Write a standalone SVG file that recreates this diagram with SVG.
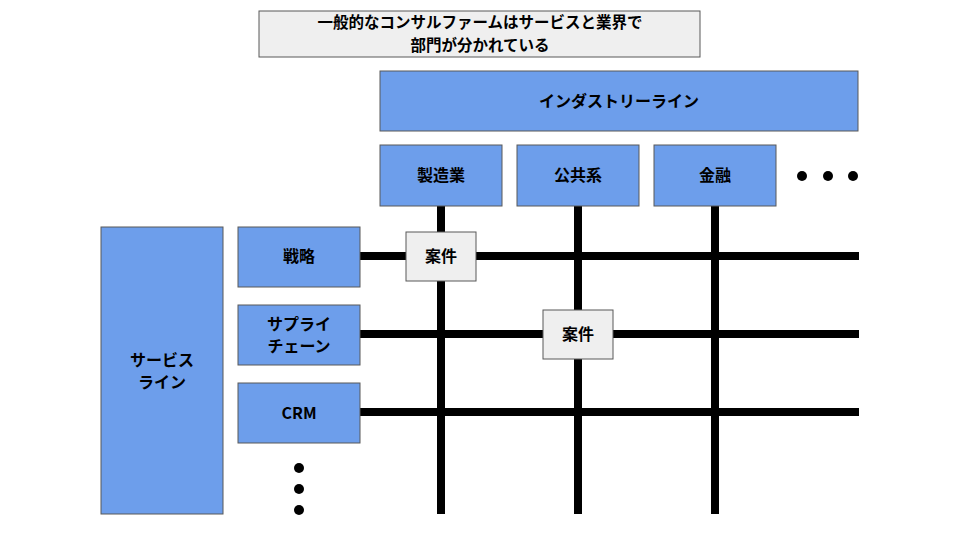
<svg xmlns="http://www.w3.org/2000/svg" width="960" height="540" viewBox="0 0 960 540">
<style>
.b{fill:#6d9eeb;stroke:#595959;stroke-width:1}
.c{fill:#efefef;stroke:#595959;stroke-width:1}
.l{stroke:#000;stroke-width:8}
text{font-family:"Noto Sans CJK JP","Liberation Sans",sans-serif;font-weight:bold;font-size:16px;fill:#000;text-anchor:middle}
</style>
<rect width="960" height="540" fill="#fff"/>
<g id="title"><rect class="c" x="259" y="11" width="441" height="46"/><text x="480" y="28" style="font-size:15.5px">一般的なコンサルファームはサービスと業界で</text><text x="480" y="51" style="font-size:15.5px">部門が分かれている</text></g>
<g id="connectors">
<line class="l" x1="441" y1="206" x2="441" y2="514"/>
<line class="l" x1="578" y1="206" x2="578" y2="514"/>
<line class="l" x1="715" y1="206" x2="715" y2="514"/>
<line class="l" x1="360" y1="256" x2="859" y2="256"/>
<line class="l" x1="360" y1="334" x2="859" y2="334"/>
<line class="l" x1="360" y1="412" x2="859" y2="412"/>
</g>
<g id="industry"><rect class="b" x="380" y="71" width="478" height="60"/><text x="619" y="107">インダストリーライン</text></g>
<g id="mfg"><rect class="b" x="380" y="145" width="122" height="61"/><text x="441" y="181">製造業</text></g>
<g id="pub"><rect class="b" x="517" y="145" width="122" height="61"/><text x="578" y="181">公共系</text></g>
<g id="fin"><rect class="b" x="654" y="145" width="122" height="61"/><text x="715" y="181">金融</text></g>
<g id="dots1" fill="#000"><circle cx="802" cy="176" r="5"/><circle cx="828" cy="176" r="5"/><circle cx="853" cy="176" r="5"/></g>
<g id="service"><rect class="b" x="101" y="227" width="122" height="287"/><text x="162" y="366">サービス</text><text x="162" y="388">ライン</text></g>
<g id="strategy"><rect class="b" x="238" y="227" width="122" height="60"/><text x="299" y="262">戦略</text></g>
<g id="scm"><rect class="b" x="238" y="305" width="122" height="60"/><text x="299" y="330">サプライ</text><text x="299" y="352">チェーン</text></g>
<g id="crm"><rect class="b" x="238" y="383" width="122" height="60"/><text x="299" y="419">CRM</text></g>
<g id="dots2" fill="#000"><circle cx="299" cy="468" r="5"/><circle cx="299" cy="489" r="5"/><circle cx="299" cy="510" r="5"/></g>
<g id="case1"><rect class="c" x="406" y="232" width="70" height="49"/><text x="441" y="262">案件</text></g>
<g id="case2"><rect class="c" x="543" y="310" width="70" height="49"/><text x="578" y="340">案件</text></g>
</svg>
